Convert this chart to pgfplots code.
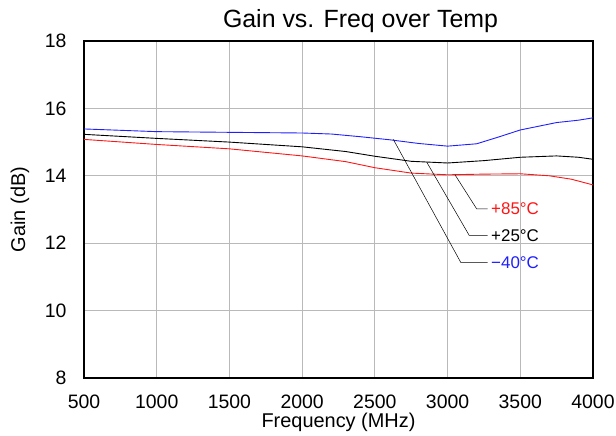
\documentclass[border=0pt]{standalone}
\usepackage{pgfplots}
\pgfplotsset{compat=1.18}
\usepackage{fontspec}
\setmainfont{Liberation Sans}
\definecolor{gridgray}{RGB}{185,185,185}
\definecolor{myblue}{RGB}{30,30,255}
\definecolor{myred}{RGB}{255,20,20}
\begin{document}
\begin{tikzpicture}
\begin{axis}[
  scale only axis,
  width=509bp, height=337bp,
  xmin=500, xmax=4000, ymin=8, ymax=18,
  xtick={500,1000,...,4000}, ytick={8,10,...,18},
  grid=major,
  major grid style={draw=gridgray, line width=1.2pt},
  axis line style={black, line width=1.2pt},
  major tick length=0pt,
  tick label style={font=\fontsize{19.5}{21}\selectfont},
  /pgf/number format/assume math mode=true,
  /pgf/number format/1000 sep={},
  xticklabel style={yshift=-13bp},
  yticklabel style={xshift=-14bp},
  clip=false,
]
\addplot[myblue, line width=0.9pt] coordinates {
(500,15.39) (1000,15.31) (1500,15.29) (2000,15.27) (2200,15.24) (2400,15.16) (2600,15.07) (2800,14.96) (3000,14.88) (3200,14.95) (3350,15.15) (3500,15.36) (3750,15.58) (3900,15.65) (4000,15.72)};
\addplot[black, line width=0.9pt] coordinates {
(500,15.23) (1000,15.11) (1500,15.0) (2000,14.86) (2300,14.72) (2500,14.58) (2750,14.43) (3000,14.38) (3250,14.45) (3500,14.55) (3750,14.59) (3900,14.55) (4000,14.49)};
\addplot[myred, line width=0.9pt] coordinates {
(500,15.08) (1000,14.93) (1500,14.80) (2000,14.59) (2300,14.42) (2500,14.24) (2750,14.08) (3000,14.03) (3250,14.05) (3500,14.06) (3700,14.00) (3850,13.9) (4000,13.73)};
\draw[black, line width=0.5pt] (axis cs:3051,14.03) -- (axis cs:3200,13.02) -- (axis cs:3276,13.02);
\draw[black, line width=0.5pt] (axis cs:2856,14.41) -- (axis cs:3149,12.23) -- (axis cs:3276,12.23);
\draw[black, line width=0.5pt] (axis cs:2627,15.08) -- (axis cs:3092,11.42) -- (axis cs:3276,11.42);
\node[anchor=west, text=myred, font=\fontsize{17}{19}\selectfont, inner sep=2bp] at (axis cs:3285,13.02) {+85°C};
\node[anchor=west, text=black, font=\fontsize{17}{19}\selectfont, inner sep=2bp] at (axis cs:3285,12.23) {+25°C};
\node[anchor=west, text=myblue, font=\fontsize{17}{19}\selectfont, inner sep=2bp] at (axis cs:3285,11.42) {−40°C};
\end{axis}
\node[font=\fontsize{20}{22}\selectfont] at ([yshift=-44bp]current axis.south) {Frequency (MHz)};
\node[font=\fontsize{20}{22}\selectfont, rotate=90] at ([xshift=-64bp]current axis.west) {Gain (dB)};
\node[font=\fontsize{25}{27}\selectfont] at ([shift={(22bp,20bp)}]current axis.north) {Gain vs. Freq over Temp};
\pgfresetboundingbox
\useasboundingbox (current axis.south west) ++(-84bp,-58bp) rectangle ([shift={(23bp,41bp)}]current axis.north east);
\end{tikzpicture}
\end{document}
